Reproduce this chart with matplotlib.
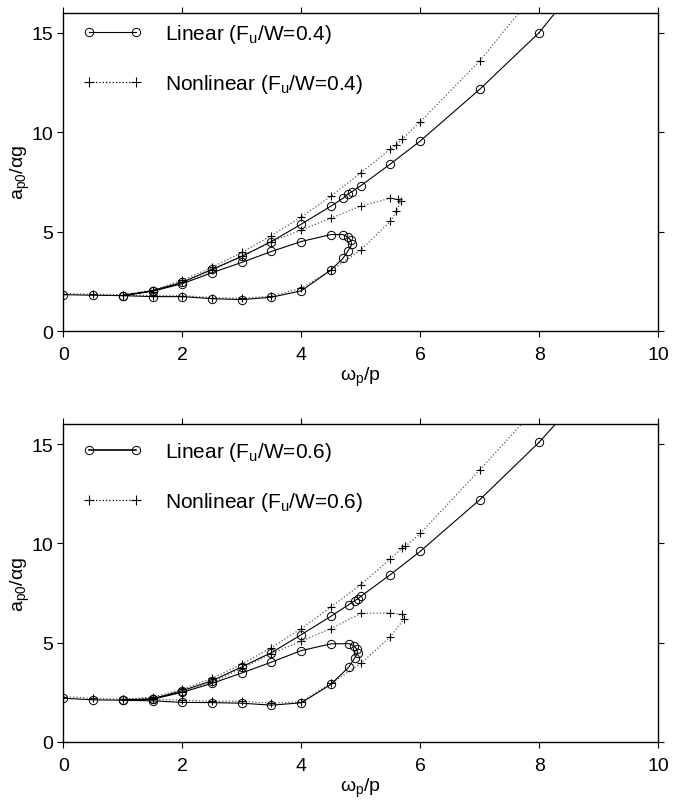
import matplotlib
matplotlib.use("Agg")
import matplotlib.pyplot as plt

plt.rcParams['font.family'] = ['Liberation Sans', 'DejaVu Sans']
plt.rcParams['mathtext.fontset'] = 'custom'
plt.rcParams['mathtext.rm'] = 'Liberation Sans'
plt.rcParams['mathtext.it'] = 'Liberation Sans'

# Fu/W = 0.4 : linear response (lower branch -> loop -> upper branch)
lin4_x = [0, 0.5, 1, 1.5, 2, 2.5, 3, 3.5, 4, 4.5, 4.7, 4.78, 4.85, 4.83, 4.78, 4.7, 4.5,
	4, 3.5, 3, 2.5, 2, 1.5, 1, 1.5, 2, 2.5, 3, 3.5, 4, 4.5, 4.7, 4.78, 4.85, 5, 5.5, 6, 7, 8]
lin4_y = [1.83, 1.8, 1.78, 1.73, 1.73, 1.63, 1.58, 1.7, 2.02, 3.07, 3.65, 4.0, 4.35, 4.57, 4.73, 4.85, 4.85,
	4.5, 4.0, 3.45, 2.93, 2.38, 2.0, 1.78, 2.03, 2.45, 3.1, 3.75, 4.5, 5.37, 6.28, 6.67, 6.88, 7.0, 7.3, 8.4, 9.55, 12.15, 15.0]
lin4_tail = ([8, 8.27], [15.0, 16.0])

# Fu/W = 0.4 : nonlinear response
non4_x = [0, 0.5, 1, 1.5, 2, 2.5, 3, 3.5, 4, 4.5, 5, 5.5, 5.6, 5.67, 5.63, 5.5, 5,
	4.5, 4, 3.5, 3, 2.5, 2, 1.5, 1, 1.5, 2, 2.5, 3, 3.5, 4, 4.5, 5, 5.5, 5.6, 5.7, 6, 7]
non4_y = [1.88, 1.85, 1.83, 1.78, 1.78, 1.68, 1.65, 1.75, 2.15, 3.05, 4.07, 5.52, 6.02, 6.52, 6.62, 6.68, 6.28,
	5.68, 5.07, 4.5, 3.75, 3.05, 2.45, 1.98, 1.83, 2.05, 2.55, 3.2, 3.95, 4.8, 5.73, 6.78, 7.95, 9.15, 9.35, 9.65, 10.52, 13.57]
non4_tail = ([7, 7.66], [13.57, 16.0])

# Fu/W = 0.6 : linear response
lin6_x = [0, 0.5, 1, 1.5, 2, 2.5, 3, 3.5, 4, 4.5, 4.8, 4.9, 4.95, 4.93, 4.88, 4.8, 4.5,
	4, 3.5, 3, 2.5, 2, 1.5, 1, 1.5, 2, 2.5, 3, 3.5, 4, 4.5, 4.8, 4.9, 4.95, 5, 5.5, 6, 7, 8]
lin6_y = [2.2, 2.12, 2.1, 2.07, 1.99, 1.98, 1.95, 1.85, 1.97, 2.9, 3.77, 4.24, 4.49, 4.69, 4.85, 4.95, 4.94,
	4.6, 4.02, 3.47, 2.95, 2.5, 2.15, 2.1, 2.17, 2.58, 3.08, 3.78, 4.5, 5.4, 6.33, 6.92, 7.12, 7.2, 7.33, 8.43, 9.6, 12.2, 15.1]
lin6_tail = ([8, 8.27], [15.1, 16.0])

# Fu/W = 0.6 : nonlinear response
non6_x = [0, 0.5, 1, 1.5, 2, 2.5, 3, 3.5, 4, 4.5, 5, 5.5, 5.73, 5.7, 5.5, 5,
	4.5, 4, 3.5, 3, 2.5, 2, 1.5, 1, 1.5, 2, 2.5, 3, 3.5, 4, 4.5, 5, 5.5, 5.7, 5.75, 6, 7]
non6_y = [2.28, 2.2, 2.15, 2.15, 2.1, 2.05, 2.05, 1.95, 2.02, 2.95, 3.95, 5.3, 6.2, 6.42, 6.5, 6.47,
	5.71, 5.08, 4.45, 3.7, 3.0, 2.5, 2.2, 2.15, 2.25, 2.65, 3.2, 3.92, 4.75, 5.71, 6.8, 7.92, 9.22, 9.78, 9.85, 10.5, 13.7]
non6_tail = ([7, 7.7], [13.7, 16.0])

x_ticks = [0, 2, 4, 6, 8, 10]
y_ticks = [0, 5, 10, 15]

fig = plt.figure(figsize=(6.73, 8.04), dpi=100)


def draw_panel(ax, lin_x, lin_y, lin_tail, non_x, non_y, non_tail, ratio, lw_leg, leg_y):
	ax.plot(lin_tail[0], lin_tail[1], '-', color='black', lw=0.8)
	ax.plot(non_tail[0], non_tail[1], ':', color='0.35', lw=0.9)
	ax.plot(non_x, non_y, ':', color='0.35', lw=0.9)
	ax.plot(non_x, non_y, '+', color='black', ms=6, mew=0.8)
	ax.plot(lin_x, lin_y, '-o', color='black', lw=0.8, ms=6, mfc='none', mew=0.7)

	h1, = ax.plot([], [], '-o', color='black', lw=lw_leg, ms=6, mfc='none', mew=0.7)
	h2, = ax.plot([], [], ':+', color='black', lw=0.9, ms=7, mew=0.8)
	ax.legend([h1, h2], ['Linear (F$_\\mathrm{u}$/W=%s)' % ratio, 'Nonlinear (F$_\\mathrm{u}$/W=%s)' % ratio],
		loc='upper left', bbox_to_anchor=(0.018, leg_y), frameon=False, numpoints=2,
		handlelength=2.9, handletextpad=1.05, labelspacing=1.3, borderaxespad=0, fontsize=15)

	ax.set_xlim(0, 10)
	ax.set_ylim(0, 16)
	ax.set_xticks(x_ticks)
	ax.set_yticks(y_ticks)
	ax.tick_params(direction='out', top=True, right=True, labeltop=False, labelright=False,
		labelsize=14, length=4)
	ax.tick_params(axis='x', pad=7)
	for s in ax.spines.values():
		s.set_linewidth(1.0)
	ax.set_xlabel('ω$_\\mathrm{p}$/p', fontsize=14, labelpad=1)
	ax.set_ylabel('a$_\\mathrm{p0}$/αg', fontsize=14, labelpad=-1)


ax1 = fig.add_axes([0.094, 0.587, 0.884, 0.396])
draw_panel(ax1, lin4_x, lin4_y, lin4_tail, non4_x, non4_y, non4_tail, '0.4', 0.8, 0.997)

ax2 = fig.add_axes([0.094, 0.076, 0.884, 0.395])
draw_panel(ax2, lin6_x, lin6_y, lin6_tail, non6_x, non6_y, non6_tail, '0.6', 1.2, 0.977)

fig.savefig('out.png', dpi=100)
